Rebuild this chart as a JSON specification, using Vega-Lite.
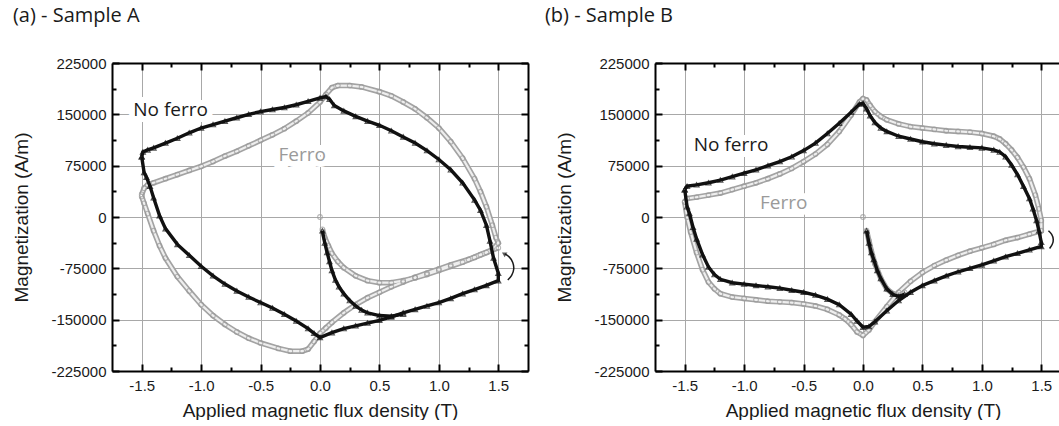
{
"$schema": "https://vega.github.io/schema/vega-lite/v6.json",
"background": "white",
"padding": {"left": 12, "top": 6, "right": 0, "bottom": 0},
"spacing": 15,
"config": {
  "view": {"stroke": null},
  "font": "Liberation Sans",
  "axis": {"labelFont": "Liberation Sans", "labelFontSize": 15, "labelColor": "#1a1a1a", "titleFont": "Liberation Sans", "titleFontSize": 19, "titleFontWeight": "normal", "titleColor": "#1a1a1a", "domainColor": "#000000", "domainWidth": 2, "tickColor": "#000000", "tickWidth": 2, "gridColor": "#a8a8a8", "gridWidth": 1, "labelOverlap": false, "labelFlush": false},
  "title": {"font": "Open Sans", "fontSize": 20, "fontWeight": "normal", "color": "#1a1a1a", "anchor": "start", "frame": "bounds"}
},
"datasets": {
  "a": [
    {"s":"NF","g":"L","x":-1.50,"y":88000},{"s":"NF","g":"L","x":-1.49,"y":95000},{"s":"NF","g":"L","x":-1.45,"y":98000},{"s":"NF","g":"L","x":-1.40,"y":101000},{"s":"NF","g":"L","x":-1.30,"y":108000},{"s":"NF","g":"L","x":-1.20,"y":115000},{"s":"NF","g":"L","x":-1.10,"y":123000},{"s":"NF","g":"L","x":-1.00,"y":130000},{"s":"NF","g":"L","x":-0.90,"y":135000},{"s":"NF","g":"L","x":-0.80,"y":140000},{"s":"NF","g":"L","x":-0.70,"y":145000},{"s":"NF","g":"L","x":-0.60,"y":150000},{"s":"NF","g":"L","x":-0.50,"y":154000},{"s":"NF","g":"L","x":-0.40,"y":157000},{"s":"NF","g":"L","x":-0.30,"y":160000},{"s":"NF","g":"L","x":-0.20,"y":164000},{"s":"NF","g":"L","x":-0.10,"y":169000},{"s":"NF","g":"L","x":0.00,"y":174000},{"s":"NF","g":"L","x":0.05,"y":176000},{"s":"NF","g":"L","x":0.08,"y":172000},{"s":"NF","g":"L","x":0.12,"y":163000},{"s":"NF","g":"L","x":0.20,"y":155000},{"s":"NF","g":"L","x":0.30,"y":147000},{"s":"NF","g":"L","x":0.40,"y":140000},{"s":"NF","g":"L","x":0.50,"y":134000},{"s":"NF","g":"L","x":0.60,"y":126000},{"s":"NF","g":"L","x":0.70,"y":117000},{"s":"NF","g":"L","x":0.80,"y":108000},{"s":"NF","g":"L","x":0.90,"y":97000},{"s":"NF","g":"L","x":1.00,"y":84000},{"s":"NF","g":"L","x":1.10,"y":69000},{"s":"NF","g":"L","x":1.20,"y":50000},{"s":"NF","g":"L","x":1.30,"y":25000},{"s":"NF","g":"L","x":1.35,"y":10000},{"s":"NF","g":"L","x":1.40,"y":-12000},{"s":"NF","g":"L","x":1.43,"y":-35000},{"s":"NF","g":"L","x":1.46,"y":-60000},{"s":"NF","g":"L","x":1.50,"y":-82000},{"s":"NF","g":"L","x":1.50,"y":-93000},{"s":"NF","g":"L","x":1.40,"y":-100000},{"s":"NF","g":"L","x":1.30,"y":-106000},{"s":"NF","g":"L","x":1.20,"y":-112000},{"s":"NF","g":"L","x":1.10,"y":-119000},{"s":"NF","g":"L","x":1.00,"y":-125000},{"s":"NF","g":"L","x":0.90,"y":-130000},{"s":"NF","g":"L","x":0.80,"y":-135000},{"s":"NF","g":"L","x":0.70,"y":-140000},{"s":"NF","g":"L","x":0.60,"y":-146000},{"s":"NF","g":"L","x":0.50,"y":-151000},{"s":"NF","g":"L","x":0.40,"y":-155000},{"s":"NF","g":"L","x":0.30,"y":-159000},{"s":"NF","g":"L","x":0.20,"y":-163000},{"s":"NF","g":"L","x":0.10,"y":-169000},{"s":"NF","g":"L","x":0.00,"y":-176000},{"s":"NF","g":"L","x":-0.05,"y":-170000},{"s":"NF","g":"L","x":-0.10,"y":-163000},{"s":"NF","g":"L","x":-0.20,"y":-152000},{"s":"NF","g":"L","x":-0.30,"y":-142000},{"s":"NF","g":"L","x":-0.40,"y":-133000},{"s":"NF","g":"L","x":-0.50,"y":-125000},{"s":"NF","g":"L","x":-0.60,"y":-117000},{"s":"NF","g":"L","x":-0.70,"y":-108000},{"s":"NF","g":"L","x":-0.80,"y":-98000},{"s":"NF","g":"L","x":-0.90,"y":-86000},{"s":"NF","g":"L","x":-1.00,"y":-72000},{"s":"NF","g":"L","x":-1.10,"y":-56000},{"s":"NF","g":"L","x":-1.20,"y":-40000},{"s":"NF","g":"L","x":-1.30,"y":-17000},{"s":"NF","g":"L","x":-1.35,"y":2000},{"s":"NF","g":"L","x":-1.40,"y":28000},{"s":"NF","g":"L","x":-1.43,"y":45000},{"s":"NF","g":"L","x":-1.46,"y":58000},{"s":"NF","g":"L","x":-1.48,"y":65000},{"s":"NF","g":"L","x":-1.50,"y":88000},
    {"s":"NF","g":"I","x":0.02,"y":-20000},{"s":"NF","g":"I","x":0.04,"y":-38000},{"s":"NF","g":"I","x":0.06,"y":-52000},{"s":"NF","g":"I","x":0.08,"y":-65000},{"s":"NF","g":"I","x":0.10,"y":-78000},{"s":"NF","g":"I","x":0.13,"y":-92000},{"s":"NF","g":"I","x":0.16,"y":-102000},{"s":"NF","g":"I","x":0.20,"y":-112000},{"s":"NF","g":"I","x":0.25,"y":-122000},{"s":"NF","g":"I","x":0.30,"y":-130000},{"s":"NF","g":"I","x":0.35,"y":-136000},{"s":"NF","g":"I","x":0.40,"y":-140000},{"s":"NF","g":"I","x":0.50,"y":-144000},{"s":"NF","g":"I","x":0.60,"y":-145000},{"s":"NF","g":"I","x":0.70,"y":-142000},
    {"s":"F","g":"L","x":-1.50,"y":33000},{"s":"F","g":"L","x":-1.48,"y":42000},{"s":"F","g":"L","x":-1.45,"y":47000},{"s":"F","g":"L","x":-1.40,"y":50000},{"s":"F","g":"L","x":-1.30,"y":56000},{"s":"F","g":"L","x":-1.20,"y":62000},{"s":"F","g":"L","x":-1.10,"y":68000},{"s":"F","g":"L","x":-1.00,"y":74000},{"s":"F","g":"L","x":-0.90,"y":81000},{"s":"F","g":"L","x":-0.80,"y":89000},{"s":"F","g":"L","x":-0.70,"y":96000},{"s":"F","g":"L","x":-0.60,"y":104000},{"s":"F","g":"L","x":-0.50,"y":112000},{"s":"F","g":"L","x":-0.40,"y":120000},{"s":"F","g":"L","x":-0.30,"y":129000},{"s":"F","g":"L","x":-0.20,"y":140000},{"s":"F","g":"L","x":-0.10,"y":152000},{"s":"F","g":"L","x":0.00,"y":168000},{"s":"F","g":"L","x":0.05,"y":179000},{"s":"F","g":"L","x":0.10,"y":189000},{"s":"F","g":"L","x":0.15,"y":192000},{"s":"F","g":"L","x":0.25,"y":192000},{"s":"F","g":"L","x":0.35,"y":190000},{"s":"F","g":"L","x":0.50,"y":183000},{"s":"F","g":"L","x":0.60,"y":177000},{"s":"F","g":"L","x":0.70,"y":168000},{"s":"F","g":"L","x":0.80,"y":158000},{"s":"F","g":"L","x":0.90,"y":145000},{"s":"F","g":"L","x":1.00,"y":130000},{"s":"F","g":"L","x":1.10,"y":110000},{"s":"F","g":"L","x":1.20,"y":86000},{"s":"F","g":"L","x":1.30,"y":56000},{"s":"F","g":"L","x":1.35,"y":37000},{"s":"F","g":"L","x":1.40,"y":15000},{"s":"F","g":"L","x":1.45,"y":-12000},{"s":"F","g":"L","x":1.48,"y":-30000},{"s":"F","g":"L","x":1.50,"y":-38000},{"s":"F","g":"L","x":1.45,"y":-48000},{"s":"F","g":"L","x":1.35,"y":-55000},{"s":"F","g":"L","x":1.25,"y":-62000},{"s":"F","g":"L","x":1.10,"y":-70000},{"s":"F","g":"L","x":1.00,"y":-76000},{"s":"F","g":"L","x":0.90,"y":-82000},{"s":"F","g":"L","x":0.80,"y":-88000},{"s":"F","g":"L","x":0.70,"y":-95000},{"s":"F","g":"L","x":0.60,"y":-102000},{"s":"F","g":"L","x":0.50,"y":-110000},{"s":"F","g":"L","x":0.40,"y":-118000},{"s":"F","g":"L","x":0.30,"y":-128000},{"s":"F","g":"L","x":0.20,"y":-140000},{"s":"F","g":"L","x":0.10,"y":-154000},{"s":"F","g":"L","x":0.05,"y":-162000},{"s":"F","g":"L","x":0.00,"y":-170000},{"s":"F","g":"L","x":-0.05,"y":-182000},{"s":"F","g":"L","x":-0.10,"y":-193000},{"s":"F","g":"L","x":-0.15,"y":-196000},{"s":"F","g":"L","x":-0.25,"y":-196000},{"s":"F","g":"L","x":-0.35,"y":-192000},{"s":"F","g":"L","x":-0.50,"y":-184000},{"s":"F","g":"L","x":-0.60,"y":-177000},{"s":"F","g":"L","x":-0.70,"y":-168000},{"s":"F","g":"L","x":-0.80,"y":-157000},{"s":"F","g":"L","x":-0.90,"y":-144000},{"s":"F","g":"L","x":-1.00,"y":-128000},{"s":"F","g":"L","x":-1.10,"y":-108000},{"s":"F","g":"L","x":-1.20,"y":-87000},{"s":"F","g":"L","x":-1.30,"y":-60000},{"s":"F","g":"L","x":-1.35,"y":-42000},{"s":"F","g":"L","x":-1.40,"y":-20000},{"s":"F","g":"L","x":-1.45,"y":5000},{"s":"F","g":"L","x":-1.48,"y":20000},{"s":"F","g":"L","x":-1.50,"y":30000},
    {"s":"F","g":"P","x":0.00,"y":0},
    {"s":"F","g":"I","x":0.02,"y":-18000},{"s":"F","g":"I","x":0.04,"y":-30000},{"s":"F","g":"I","x":0.07,"y":-42000},{"s":"F","g":"I","x":0.10,"y":-53000},{"s":"F","g":"I","x":0.15,"y":-65000},{"s":"F","g":"I","x":0.20,"y":-74000},{"s":"F","g":"I","x":0.30,"y":-86000},{"s":"F","g":"I","x":0.40,"y":-93000},{"s":"F","g":"I","x":0.50,"y":-96000},{"s":"F","g":"I","x":0.60,"y":-96000},{"s":"F","g":"I","x":0.70,"y":-93000},{"s":"F","g":"I","x":0.80,"y":-89000},{"s":"F","g":"I","x":0.90,"y":-84000},{"s":"F","g":"I","x":1.00,"y":-78000},{"s":"F","g":"I","x":1.10,"y":-72000},{"s":"F","g":"I","x":1.20,"y":-66000},{"s":"F","g":"I","x":1.30,"y":-59000},{"s":"F","g":"I","x":1.40,"y":-52000},{"s":"F","g":"I","x":1.50,"y":-45000}
  ],
  "b": [
    {"s":"NF","g":"L","x":-1.50,"y":40000},{"s":"NF","g":"L","x":-1.48,"y":45000},{"s":"NF","g":"L","x":-1.40,"y":47000},{"s":"NF","g":"L","x":-1.30,"y":50000},{"s":"NF","g":"L","x":-1.20,"y":54000},{"s":"NF","g":"L","x":-1.10,"y":59000},{"s":"NF","g":"L","x":-1.00,"y":64000},{"s":"NF","g":"L","x":-0.90,"y":69000},{"s":"NF","g":"L","x":-0.80,"y":75000},{"s":"NF","g":"L","x":-0.70,"y":81000},{"s":"NF","g":"L","x":-0.60,"y":88000},{"s":"NF","g":"L","x":-0.50,"y":97000},{"s":"NF","g":"L","x":-0.40,"y":108000},{"s":"NF","g":"L","x":-0.30,"y":122000},{"s":"NF","g":"L","x":-0.20,"y":137000},{"s":"NF","g":"L","x":-0.10,"y":153000},{"s":"NF","g":"L","x":-0.03,"y":165000},{"s":"NF","g":"L","x":0.00,"y":166000},{"s":"NF","g":"L","x":0.03,"y":158000},{"s":"NF","g":"L","x":0.06,"y":148000},{"s":"NF","g":"L","x":0.10,"y":138000},{"s":"NF","g":"L","x":0.15,"y":130000},{"s":"NF","g":"L","x":0.20,"y":125000},{"s":"NF","g":"L","x":0.30,"y":118000},{"s":"NF","g":"L","x":0.40,"y":114000},{"s":"NF","g":"L","x":0.50,"y":110000},{"s":"NF","g":"L","x":0.60,"y":107000},{"s":"NF","g":"L","x":0.70,"y":105000},{"s":"NF","g":"L","x":0.80,"y":103000},{"s":"NF","g":"L","x":0.90,"y":102000},{"s":"NF","g":"L","x":1.00,"y":101000},{"s":"NF","g":"L","x":1.10,"y":98000},{"s":"NF","g":"L","x":1.15,"y":95000},{"s":"NF","g":"L","x":1.20,"y":88000},{"s":"NF","g":"L","x":1.25,"y":76000},{"s":"NF","g":"L","x":1.30,"y":62000},{"s":"NF","g":"L","x":1.35,"y":45000},{"s":"NF","g":"L","x":1.40,"y":27000},{"s":"NF","g":"L","x":1.43,"y":12000},{"s":"NF","g":"L","x":1.46,"y":-5000},{"s":"NF","g":"L","x":1.48,"y":-20000},{"s":"NF","g":"L","x":1.50,"y":-37000},{"s":"NF","g":"L","x":1.50,"y":-43000},{"s":"NF","g":"L","x":1.40,"y":-48000},{"s":"NF","g":"L","x":1.30,"y":-53000},{"s":"NF","g":"L","x":1.20,"y":-58000},{"s":"NF","g":"L","x":1.10,"y":-64000},{"s":"NF","g":"L","x":1.00,"y":-70000},{"s":"NF","g":"L","x":0.90,"y":-75000},{"s":"NF","g":"L","x":0.80,"y":-80000},{"s":"NF","g":"L","x":0.70,"y":-86000},{"s":"NF","g":"L","x":0.60,"y":-93000},{"s":"NF","g":"L","x":0.50,"y":-100000},{"s":"NF","g":"L","x":0.40,"y":-110000},{"s":"NF","g":"L","x":0.30,"y":-122000},{"s":"NF","g":"L","x":0.20,"y":-137000},{"s":"NF","g":"L","x":0.10,"y":-153000},{"s":"NF","g":"L","x":0.05,"y":-160000},{"s":"NF","g":"L","x":0.00,"y":-161000},{"s":"NF","g":"L","x":-0.05,"y":-152000},{"s":"NF","g":"L","x":-0.10,"y":-142000},{"s":"NF","g":"L","x":-0.20,"y":-128000},{"s":"NF","g":"L","x":-0.30,"y":-120000},{"s":"NF","g":"L","x":-0.40,"y":-114000},{"s":"NF","g":"L","x":-0.50,"y":-110000},{"s":"NF","g":"L","x":-0.60,"y":-107000},{"s":"NF","g":"L","x":-0.70,"y":-104000},{"s":"NF","g":"L","x":-0.80,"y":-102000},{"s":"NF","g":"L","x":-0.90,"y":-100000},{"s":"NF","g":"L","x":-1.00,"y":-98000},{"s":"NF","g":"L","x":-1.10,"y":-96000},{"s":"NF","g":"L","x":-1.20,"y":-91000},{"s":"NF","g":"L","x":-1.25,"y":-84000},{"s":"NF","g":"L","x":-1.30,"y":-73000},{"s":"NF","g":"L","x":-1.35,"y":-55000},{"s":"NF","g":"L","x":-1.40,"y":-32000},{"s":"NF","g":"L","x":-1.43,"y":-15000},{"s":"NF","g":"L","x":-1.46,"y":5000},{"s":"NF","g":"L","x":-1.48,"y":15000},{"s":"NF","g":"L","x":-1.50,"y":40000},
    {"s":"NF","g":"I","x":0.03,"y":-20000},{"s":"NF","g":"I","x":0.05,"y":-38000},{"s":"NF","g":"I","x":0.07,"y":-52000},{"s":"NF","g":"I","x":0.09,"y":-62000},{"s":"NF","g":"I","x":0.12,"y":-78000},{"s":"NF","g":"I","x":0.15,"y":-90000},{"s":"NF","g":"I","x":0.20,"y":-105000},{"s":"NF","g":"I","x":0.25,"y":-113000},{"s":"NF","g":"I","x":0.30,"y":-116000},{"s":"NF","g":"I","x":0.35,"y":-113000},
    {"s":"F","g":"L","x":-1.50,"y":22000},{"s":"F","g":"L","x":-1.48,"y":27000},{"s":"F","g":"L","x":-1.40,"y":29000},{"s":"F","g":"L","x":-1.30,"y":32000},{"s":"F","g":"L","x":-1.20,"y":35000},{"s":"F","g":"L","x":-1.10,"y":40000},{"s":"F","g":"L","x":-1.00,"y":45000},{"s":"F","g":"L","x":-0.90,"y":50000},{"s":"F","g":"L","x":-0.80,"y":56000},{"s":"F","g":"L","x":-0.70,"y":63000},{"s":"F","g":"L","x":-0.60,"y":71000},{"s":"F","g":"L","x":-0.50,"y":81000},{"s":"F","g":"L","x":-0.40,"y":92000},{"s":"F","g":"L","x":-0.30,"y":106000},{"s":"F","g":"L","x":-0.20,"y":125000},{"s":"F","g":"L","x":-0.10,"y":149000},{"s":"F","g":"L","x":-0.03,"y":168000},{"s":"F","g":"L","x":0.00,"y":173000},{"s":"F","g":"L","x":0.03,"y":171000},{"s":"F","g":"L","x":0.06,"y":163000},{"s":"F","g":"L","x":0.10,"y":154000},{"s":"F","g":"L","x":0.15,"y":147000},{"s":"F","g":"L","x":0.20,"y":142000},{"s":"F","g":"L","x":0.30,"y":136000},{"s":"F","g":"L","x":0.40,"y":132000},{"s":"F","g":"L","x":0.50,"y":130000},{"s":"F","g":"L","x":0.60,"y":128000},{"s":"F","g":"L","x":0.70,"y":126000},{"s":"F","g":"L","x":0.80,"y":125000},{"s":"F","g":"L","x":0.90,"y":124000},{"s":"F","g":"L","x":1.00,"y":122000},{"s":"F","g":"L","x":1.10,"y":118000},{"s":"F","g":"L","x":1.15,"y":114000},{"s":"F","g":"L","x":1.20,"y":107000},{"s":"F","g":"L","x":1.25,"y":98000},{"s":"F","g":"L","x":1.30,"y":87000},{"s":"F","g":"L","x":1.35,"y":73000},{"s":"F","g":"L","x":1.40,"y":56000},{"s":"F","g":"L","x":1.45,"y":32000},{"s":"F","g":"L","x":1.48,"y":12000},{"s":"F","g":"L","x":1.50,"y":-5000},{"s":"F","g":"L","x":1.50,"y":-20000},{"s":"F","g":"L","x":1.40,"y":-25000},{"s":"F","g":"L","x":1.30,"y":-30000},{"s":"F","g":"L","x":1.20,"y":-34000},{"s":"F","g":"L","x":1.10,"y":-40000},{"s":"F","g":"L","x":1.00,"y":-45000},{"s":"F","g":"L","x":0.90,"y":-50000},{"s":"F","g":"L","x":0.80,"y":-56000},{"s":"F","g":"L","x":0.70,"y":-63000},{"s":"F","g":"L","x":0.60,"y":-71000},{"s":"F","g":"L","x":0.50,"y":-81000},{"s":"F","g":"L","x":0.40,"y":-94000},{"s":"F","g":"L","x":0.30,"y":-110000},{"s":"F","g":"L","x":0.20,"y":-131000},{"s":"F","g":"L","x":0.10,"y":-153000},{"s":"F","g":"L","x":0.05,"y":-165000},{"s":"F","g":"L","x":0.00,"y":-173000},{"s":"F","g":"L","x":-0.05,"y":-168000},{"s":"F","g":"L","x":-0.10,"y":-157000},{"s":"F","g":"L","x":-0.15,"y":-149000},{"s":"F","g":"L","x":-0.20,"y":-143000},{"s":"F","g":"L","x":-0.30,"y":-135000},{"s":"F","g":"L","x":-0.40,"y":-130000},{"s":"F","g":"L","x":-0.50,"y":-127000},{"s":"F","g":"L","x":-0.60,"y":-125000},{"s":"F","g":"L","x":-0.70,"y":-124000},{"s":"F","g":"L","x":-0.80,"y":-123000},{"s":"F","g":"L","x":-0.90,"y":-121000},{"s":"F","g":"L","x":-1.00,"y":-119000},{"s":"F","g":"L","x":-1.10,"y":-117000},{"s":"F","g":"L","x":-1.20,"y":-112000},{"s":"F","g":"L","x":-1.25,"y":-105000},{"s":"F","g":"L","x":-1.30,"y":-95000},{"s":"F","g":"L","x":-1.35,"y":-77000},{"s":"F","g":"L","x":-1.40,"y":-52000},{"s":"F","g":"L","x":-1.45,"y":-22000},{"s":"F","g":"L","x":-1.48,"y":0},{"s":"F","g":"L","x":-1.50,"y":22000},
    {"s":"F","g":"P","x":0.00,"y":0},
    {"s":"F","g":"I","x":0.03,"y":-20000},{"s":"F","g":"I","x":0.05,"y":-35000},{"s":"F","g":"I","x":0.07,"y":-50000},{"s":"F","g":"I","x":0.10,"y":-68000},{"s":"F","g":"I","x":0.15,"y":-90000},{"s":"F","g":"I","x":0.20,"y":-105000},{"s":"F","g":"I","x":0.25,"y":-112000},{"s":"F","g":"I","x":0.30,"y":-114000},{"s":"F","g":"I","x":0.35,"y":-110000}
  ],
  "notesA": [{"t":"No ferro","x":-1.257,"y":156000},{"t":"Ferro","x":-0.15,"y":90500}],
  "notesB": [{"t":"No ferro","x":-1.11,"y":105500},{"t":"Ferro","x":-0.667,"y":20000}],
  "arrowA": [{"x":1.58,"y":-92000},{"x":1.615,"y":-86000},{"x":1.635,"y":-76000},{"x":1.625,"y":-66000},{"x":1.595,"y":-58000},{"x":1.555,"y":-54000}],
  "headA": [{"x":1.548,"y":-53500}],
  "arrowB": [{"x":1.56,"y":-20000},{"x":1.59,"y":-25000},{"x":1.605,"y":-33000},{"x":1.595,"y":-40000},{"x":1.57,"y":-46000}]
},
"hconcat": [
  {
    "title": {"text": "(a) - Sample A", "offset": 30},
    "width": 416, "height": 308,
    "resolve": {"axis": {"x": "independent", "y": "independent"}},
    "encoding": {
      "x": {"field": "x", "type": "quantitative", "scale": {"domain": [-1.75, 1.75], "nice": false, "zero": false}, "axis": null},
      "y": {"field": "y", "type": "quantitative", "scale": {"domain": [-225000, 225000], "nice": false, "zero": false}, "axis": null}
    },
    "layer": [
      {"data": {"name": "notesA"}, "mark": {"type": "point", "opacity": 0},
       "encoding": {
        "x": {"field": "x", "type": "quantitative", "axis": {"orient": "bottom", "values": [-1.5,-1,-0.5,0,0.5,1,1.5], "labelExpr": "datum.value % 1 === 0 ? datum.value + '.0' : '' + datum.value", "tickSize": -7, "labelPadding": 14, "grid": true, "title": "Applied magnetic flux density (T)", "titlePadding": 8}},
        "y": {"field": "y", "type": "quantitative", "axis": {"orient": "left", "values": [-225000,-150000,-75000,0,75000,150000,225000], "labelExpr": "'' + datum.value", "tickSize": -7, "labelPadding": 13, "grid": true, "title": "Magnetization (A/m)", "titlePadding": 19}}
       }},
      {"data": {"name": "notesA"}, "mark": {"type": "point", "opacity": 0},
       "encoding": {
        "x": {"field": "x", "type": "quantitative", "axis": {"orient": "bottom", "values": [-1.25,-0.75,-0.25,0.25,0.75,1.25], "labels": false, "tickSize": -4, "grid": false, "domain": false, "title": null}},
        "y": {"field": "y", "type": "quantitative", "axis": {"orient": "left", "values": [-187500,-112500,-37500,37500,112500,187500], "labels": false, "tickSize": -4, "grid": false, "domain": false, "title": null}}
       }},
      {"data": {"name": "notesA"}, "mark": {"type": "point", "opacity": 0},
       "encoding": {
        "x": {"field": "x", "type": "quantitative", "axis": {"orient": "top", "values": [-1.5,-1,-0.5,0,0.5,1,1.5], "labels": false, "tickSize": -7, "grid": false, "title": null}},
        "y": {"field": "y", "type": "quantitative", "axis": {"orient": "right", "values": [-225000,-150000,-75000,0,75000,150000,225000], "labels": false, "tickSize": -7, "grid": false, "title": null}}
       }},
      {"data": {"name": "notesA"}, "mark": {"type": "point", "opacity": 0},
       "encoding": {
        "x": {"field": "x", "type": "quantitative", "axis": {"orient": "top", "values": [-1.25,-0.75,-0.25,0.25,0.75,1.25], "labels": false, "tickSize": -4, "grid": false, "domain": false, "title": null}},
        "y": {"field": "y", "type": "quantitative", "axis": {"orient": "right", "values": [-187500,-112500,-37500,37500,112500,187500], "labels": false, "tickSize": -4, "grid": false, "domain": false, "title": null}}
       }},
      {"data": {"name": "a"}, "transform": [{"filter": "datum.s === 'F'"}], "mark": {"type": "line", "color": "#a3a3a3", "strokeWidth": 5.5}, "encoding": {"detail": {"field": "g"}, "order": {"value": null}}},
      {"data": {"name": "a"}, "transform": [{"filter": "datum.s === 'F'"}], "mark": {"type": "line", "color": "#eeeeee", "strokeWidth": 2.2}, "encoding": {"detail": {"field": "g"}, "order": {"value": null}}},
      {"data": {"name": "a"}, "transform": [{"filter": "datum.s === 'F'"}], "mark": {"type": "point", "shape": "circle", "filled": false, "color": "#9a9a9a", "size": 22, "strokeWidth": 1.1}},
      {"data": {"name": "a"}, "transform": [{"filter": "datum.s === 'NF'"}], "mark": {"type": "line", "color": "#111111", "strokeWidth": 3.4}, "encoding": {"detail": {"field": "g"}, "order": {"value": null}}},
      {"data": {"name": "a"}, "transform": [{"filter": "datum.s === 'NF'"}], "mark": {"type": "point", "shape": "triangle-up", "filled": false, "color": "#111111", "size": 26, "strokeWidth": 1.1}},
      {"data": {"name": "notesA"}, "mark": {"type": "text", "font": "Open Sans", "fontSize": 19, "fill": "white", "stroke": "white", "strokeWidth": 12, "align": "center", "baseline": "middle"}, "encoding": {"text": {"field": "t"}}},
      {"data": {"name": "notesA"}, "mark": {"type": "text", "font": "Open Sans", "fontSize": 19, "align": "center", "baseline": "middle"}, "encoding": {"text": {"field": "t"}, "color": {"field": "t", "type": "nominal", "scale": {"domain": ["No ferro", "Ferro"], "range": ["#1a1a1a", "#9a9a9a"]}, "legend": null}}},
      {"data": {"name": "arrowA"}, "mark": {"type": "line", "color": "#1a1a1a", "strokeWidth": 1.5, "interpolate": "basis"}, "encoding": {"order": {"value": null}}},
      {"data": {"name": "headA"}, "mark": {"type": "point", "shape": "triangle-left", "filled": true, "color": "#1a1a1a", "size": 30, "angle": 30}}
    ]
  },
  {
    "title": {"text": "(b) - Sample B", "offset": 30, "dx": -11},
    "width": 416, "height": 308,
    "resolve": {"axis": {"x": "independent", "y": "independent"}},
    "encoding": {
      "x": {"field": "x", "type": "quantitative", "scale": {"domain": [-1.75, 1.75], "nice": false, "zero": false}, "axis": null},
      "y": {"field": "y", "type": "quantitative", "scale": {"domain": [-225000, 225000], "nice": false, "zero": false}, "axis": null}
    },
    "layer": [
      {"data": {"name": "notesB"}, "mark": {"type": "point", "opacity": 0},
       "encoding": {
        "x": {"field": "x", "type": "quantitative", "axis": {"orient": "bottom", "values": [-1.5,-1,-0.5,0,0.5,1,1.5], "labelExpr": "datum.value % 1 === 0 ? datum.value + '.0' : '' + datum.value", "tickSize": -7, "labelPadding": 14, "grid": true, "title": "Applied magnetic flux density (T)", "titlePadding": 8}},
        "y": {"field": "y", "type": "quantitative", "axis": {"orient": "left", "values": [-225000,-150000,-75000,0,75000,150000,225000], "labelExpr": "'' + datum.value", "tickSize": -7, "labelPadding": 13, "grid": true, "title": "Magnetization (A/m)", "titlePadding": 19}}
       }},
      {"data": {"name": "notesB"}, "mark": {"type": "point", "opacity": 0},
       "encoding": {
        "x": {"field": "x", "type": "quantitative", "axis": {"orient": "bottom", "values": [-1.25,-0.75,-0.25,0.25,0.75,1.25], "labels": false, "tickSize": -4, "grid": false, "domain": false, "title": null}},
        "y": {"field": "y", "type": "quantitative", "axis": {"orient": "left", "values": [-187500,-112500,-37500,37500,112500,187500], "labels": false, "tickSize": -4, "grid": false, "domain": false, "title": null}}
       }},
      {"data": {"name": "notesB"}, "mark": {"type": "point", "opacity": 0},
       "encoding": {
        "x": {"field": "x", "type": "quantitative", "axis": {"orient": "top", "values": [-1.5,-1,-0.5,0,0.5,1,1.5], "labels": false, "tickSize": -7, "grid": false, "title": null}},
        "y": {"field": "y", "type": "quantitative", "axis": {"orient": "right", "values": [-225000,-150000,-75000,0,75000,150000,225000], "labels": false, "tickSize": -7, "grid": false, "title": null}}
       }},
      {"data": {"name": "notesB"}, "mark": {"type": "point", "opacity": 0},
       "encoding": {
        "x": {"field": "x", "type": "quantitative", "axis": {"orient": "top", "values": [-1.25,-0.75,-0.25,0.25,0.75,1.25], "labels": false, "tickSize": -4, "grid": false, "domain": false, "title": null}},
        "y": {"field": "y", "type": "quantitative", "axis": {"orient": "right", "values": [-187500,-112500,-37500,37500,112500,187500], "labels": false, "tickSize": -4, "grid": false, "domain": false, "title": null}}
       }},
      {"data": {"name": "b"}, "transform": [{"filter": "datum.s === 'F'"}], "mark": {"type": "line", "color": "#a3a3a3", "strokeWidth": 5.5}, "encoding": {"detail": {"field": "g"}, "order": {"value": null}}},
      {"data": {"name": "b"}, "transform": [{"filter": "datum.s === 'F'"}], "mark": {"type": "line", "color": "#eeeeee", "strokeWidth": 2.2}, "encoding": {"detail": {"field": "g"}, "order": {"value": null}}},
      {"data": {"name": "b"}, "transform": [{"filter": "datum.s === 'F'"}], "mark": {"type": "point", "shape": "circle", "filled": false, "color": "#9a9a9a", "size": 22, "strokeWidth": 1.1}},
      {"data": {"name": "b"}, "transform": [{"filter": "datum.s === 'NF'"}], "mark": {"type": "line", "color": "#111111", "strokeWidth": 3.4}, "encoding": {"detail": {"field": "g"}, "order": {"value": null}}},
      {"data": {"name": "b"}, "transform": [{"filter": "datum.s === 'NF'"}], "mark": {"type": "point", "shape": "triangle-up", "filled": false, "color": "#111111", "size": 26, "strokeWidth": 1.1}},
      {"data": {"name": "notesB"}, "mark": {"type": "text", "font": "Open Sans", "fontSize": 19, "fill": "white", "stroke": "white", "strokeWidth": 12, "align": "center", "baseline": "middle"}, "encoding": {"text": {"field": "t"}}},
      {"data": {"name": "notesB"}, "mark": {"type": "text", "font": "Open Sans", "fontSize": 19, "align": "center", "baseline": "middle"}, "encoding": {"text": {"field": "t"}, "color": {"field": "t", "type": "nominal", "scale": {"domain": ["No ferro", "Ferro"], "range": ["#1a1a1a", "#9a9a9a"]}, "legend": null}}},
      {"data": {"name": "arrowB"}, "mark": {"type": "line", "color": "#1a1a1a", "strokeWidth": 1.5, "interpolate": "basis"}, "encoding": {"order": {"value": null}}}
    ]
  }
]
}
